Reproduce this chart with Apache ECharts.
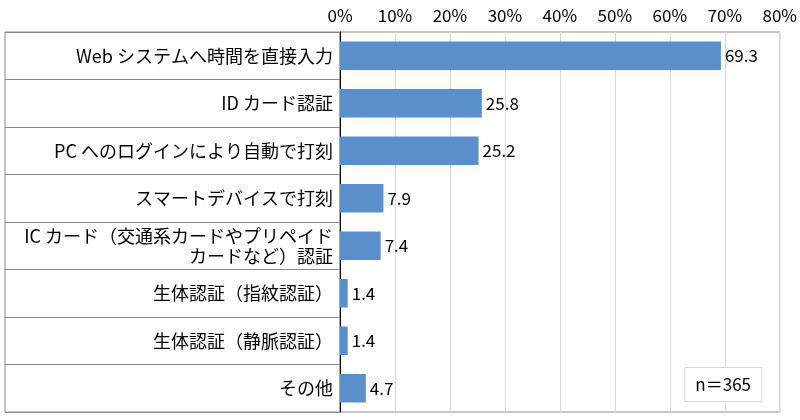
<!DOCTYPE html>
<html>
<head>
<meta charset="utf-8">
<script src="https://cdn.jsdelivr.net/npm/echarts@6/dist/echarts.min.js"></script>
<style>
  html, body { margin: 0; padding: 0; background: #fff; }
  #main { width: 800px; height: 420px; }
</style>
</head>
<body>
<div id="main"></div>
<script>
// categories, top to bottom
let categories = [
    'Web システムへ時間を直接入力',
    'ID カード認証',
    'PC へのログインにより自動で打刻',
    'スマートデバイスで打刻',
    'IC カード（交通系カードやプリペイド\nカードなど）認証',
    '生体認証（指紋認証）',
    '生体認証（静脈認証）',
    'その他'
];
let values = [69.3, 25.8, 25.2, 7.9, 7.4, 1.4, 1.4, 4.7];
let sampleNote = 'n＝365';

let font = '"Noto Sans CJK JP", "Noto Sans", sans-serif';

let chart = echarts.init(document.getElementById('main'));

let option = {
    backgroundColor: '#fff',
    textStyle: { fontFamily: font },
    title: {
        text: sampleNote,
        right: 38,
        bottom: 18,
        padding: [9, 11, 9, 11],
        borderColor: '#d9d9d9',
        borderWidth: 1,
        backgroundColor: '#fff',
        textStyle: { fontFamily: font, fontSize: 17, fontWeight: 'normal', color: '#000' }
    },
    grid: [
        // plot area
        { left: 340, right: 18, top: 32, bottom: 8, show: true, borderColor: '#8c8c8c', borderWidth: 1 },
        // label table on the left
        { left: 5, width: 335, top: 32, bottom: 8, show: true, borderColor: '#8c8c8c', borderWidth: 1 }
    ],
    xAxis: [{
        gridIndex: 0,
        type: 'value',
        position: 'top',
        min: 0,
        max: 80,
        interval: 10,
        axisLine: { show: false },
        axisTick: { show: false },
        axisLabel: {
            formatter: '{value}%',
            fontSize: 17,
            color: '#000',
            margin: 8,
            fontFamily: font
        },
        splitLine: { lineStyle: { color: '#d9d9d9' } }
    }, {
        gridIndex: 1,
        type: 'value',
        show: false
    }],
    yAxis: [{
        gridIndex: 0,
        type: 'category',
        data: categories,
        inverse: true,
        axisLine: { lineStyle: { color: '#000', width: 1 } },
        axisTick: { show: false },
        axisLabel: {
            fontSize: 18,
            color: '#000',
            margin: 7,
            align: 'right',
            lineHeight: 20,
            fontFamily: font
        }
    }, {
        gridIndex: 1,
        type: 'category',
        data: categories,
        inverse: true,
        axisLine: { show: false },
        axisTick: { show: false },
        axisLabel: { show: false },
        splitLine: { show: true, lineStyle: { color: '#8c8c8c' } }
    }],
    series: [{
        type: 'bar',
        xAxisIndex: 0,
        yAxisIndex: 0,
        data: values,
        barCategoryGap: '40%',
        itemStyle: { color: '#5B8FCC' },
        label: {
            show: true,
            position: 'right',
            distance: 4,
            fontSize: 17,
            color: '#000',
            fontFamily: font,
            formatter: function (p) { return p.value.toFixed(1); }
        },
        silent: true
    }]
};

chart.setOption(option);
</script>
</body>
</html>
